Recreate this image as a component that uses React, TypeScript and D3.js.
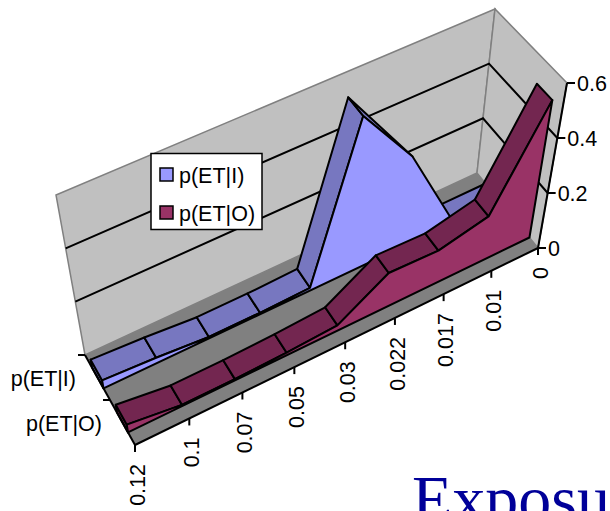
import React from "react";
import * as d3 from "d3";

const categories = ["0.12", "0.1", "0.07", "0.05", "0.03", "0.022", "0.017", "0.01", "0"];
const seriesNames = ["p(ET|I)", "p(ET|O)"];
const pI = [0.03, 0.02, 0.005, 0.005, 0.01, 0.56, 0.325, 0, 0];
const pO = [0.03, 0.005, 0.005, 0.01, 0.02, 0.125, 0.12, 0.16, 0.5];
const valueTicks = [0, 0.2, 0.4, 0.6];

type Pt = [number, number];
const lerp = (a: number, b: number, t: number) => a + (b - a) * t;
const lerpP = (a: Pt, b: Pt, t: number): Pt => [lerp(a[0], b[0], t), lerp(a[1], b[1], t)];

// box corners: F/B = front/back, L/R = left/right, 0/1 = floor/top
const FL0: Pt = [135, 445], FR0: Pt = [538, 248], BL0: Pt = [85, 355], BR0: Pt = [477, 173];
const FL1: Pt = [111, 290], FR1: Pt = [567, 83], BL1: Pt = [56, 195], BR1: Pt = [495, 9];

const uScale = d3.scalePoint<string>().domain(categories).range([0, 1]);
const wScale = d3.scaleLinear().domain([0, 0.6]).range([0, 1]);
const warp = (u: number) => (1.09 * u) / (1 + 0.09 * u);

function proj(u: number, v: number, w: number): Pt {
  const t = warp(u);
  const f0 = lerpP(FL0, FR0, t), b0 = lerpP(BL0, BR0, t);
  const f1 = lerpP(FL1, FR1, t), b1 = lerpP(BL1, BR1, t);
  return lerpP(lerpP(f0, b0, v), lerpP(f1, b1, v), w);
}
const at = (i: number, v: number, val: number) => proj(uScale(categories[i])!, v, wScale(val));
const lineGen = d3.line<Pt>().x((d) => d[0]).y((d) => d[1]);
const poly = (pts: Pt[]) => lineGen(pts)! + "Z";

const FONT = "'Liberation Sans', Arial, sans-serif";
const LABEL = 21.5;

function Ribbon({ values, v0, v1, face, top }: { values: number[]; v0: number; v1: number; face: string; top: string }) {
  const n = values.length;
  const frontPts: Pt[] = [...values.map((d, i) => at(i, v0, d)), at(n - 1, v0, 0), at(0, v0, 0)];
  const steep = (i: number) => i >= 0 && values[i] - values[i + 1] > 0.1;
  return (
    <g stroke="#000" strokeWidth={2} strokeLinejoin="round">
      <path d={poly([at(0, v1, 0), at(0, v0, 0), at(0, v0, values[0]), at(0, v1, values[0])])} fill={top} />
      {values.slice(0, -1).map((d, i) => {
        const next = values[i + 1];
        // a steep descent faces away from the viewer: a sliver at the crest, nothing after it
        if (steep(i) && steep(i - 1)) return null;
        const pts: Pt[] = steep(i)
          ? [at(i, v1, d), at(i, v0, d), at(i + 1, v0, next)]
          : [at(i, v0, d), at(i + 1, v0, next), at(i + 1, v1, next), at(i, v1, d)];
        return <path key={i} d={poly(pts)} fill={top} />;
      })}
      <path d={poly(frontPts)} fill={face} />
    </g>
  );
}

export default function App() {
  const inner = valueTicks.filter((d) => d > 0 && d < 0.6);
  const depthTickO = lerpP(FL0, BL0, 0.5);
  return (
    <svg width={610} height={511} style={{ position: "absolute", left: 0, top: 0 }} fontFamily={FONT}>
      <path d={poly([BL0, BL1, BR1, BR0])} fill="#c0c0c0" stroke="#808080" strokeWidth={1.5} />
      <path d={poly([BR0, BR1, FR1, FR0])} fill="#c0c0c0" stroke="#808080" strokeWidth={1.5} />
      {inner.map((d) => {
        const w = wScale(d);
        const a = lerpP(BL0, BL1, w), b = lerpP(BR0, BR1, w), c = lerpP(FR0, FR1, w);
        return <path key={d} d={lineGen([a, b, c])!} fill="none" stroke="#000" strokeWidth={2} />;
      })}
      <path d={poly([FL0, FR0, BR0, BL0])} fill="#808080" />

      <Ribbon values={pI} v0={0.63} v1={0.86} face="#9999ff" top="#7777c0" />
      <Ribbon values={pO} v0={0.14} v1={0.36} face="#993366" top="#732650" />

      <path d={lineGen([FL0, FR0])!} stroke="#000" strokeWidth={2} fill="none" />
      <path d={lineGen([BL0, FL0])!} stroke="#000" strokeWidth={2} fill="none" />
      <path d={lineGen([FR0, FR1])!} stroke="#000" strokeWidth={2} fill="none" />

      {valueTicks.map((d) => {
        const [x, y] = lerpP(FR0, FR1, wScale(d));
        return (
          <g key={d}>
            <line x1={x} y1={y} x2={x + 8} y2={y} stroke="#000" strokeWidth={2} />
            <text x={x + 10} y={y} dy="0.36em" fontSize={LABEL} fill="#000">{d}</text>
          </g>
        );
      })}

      {categories.map((c, i) => {
        const [x, y] = at(i, 0, 0);
        return (
          <g key={c}>
            <line x1={x} y1={y} x2={x} y2={y + 7} stroke="#000" strokeWidth={2} />
            <text transform={`translate(${x + 2},${y + 19}) rotate(-90)`} textAnchor="end" dy="0.36em" fontSize={LABEL} fill="#000">{c}</text>
          </g>
        );
      })}

      {[depthTickO, BL0].map((q, k) => (
        <line key={k} x1={q[0] - 7} y1={q[1]} x2={q[0]} y2={q[1]} stroke="#000" strokeWidth={2} />
      ))}
      <text x={76} y={378} dy="0.36em" textAnchor="end" fontSize={LABEL} fill="#000">{seriesNames[0]}</text>
      <text x={102} y={423} dy="0.36em" textAnchor="end" fontSize={LABEL} fill="#000">{seriesNames[1]}</text>

      <rect x={151} y={153.5} width={111} height={76} fill="#fff" stroke="#000" strokeWidth={1.5} />
      <rect x={160} y={168} width={13} height={13} fill="#9999ff" stroke="#000" strokeWidth={1.5} />
      <rect x={160} y={206} width={13} height={13} fill="#993366" stroke="#000" strokeWidth={1.5} />
      <text x={179} y={183} fontSize={LABEL} fill="#000">{seriesNames[0]}</text>
      <text x={179} y={221} fontSize={LABEL} fill="#000">{seriesNames[1]}</text>

      <text x={412} y={521} fontFamily="'Liberation Serif', 'Times New Roman', serif" fontSize={66} fill="#000099">Exposure</text>
    </svg>
  );
}
